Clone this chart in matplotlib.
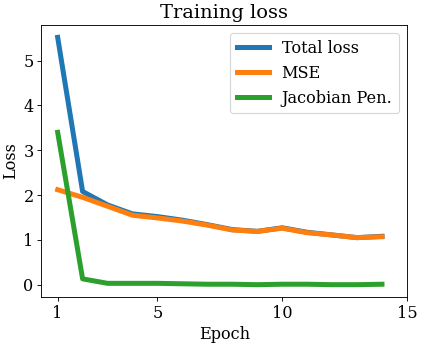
import numpy as np
import matplotlib.pyplot as plt

plt.rcParams['font.family'] = 'DejaVu Serif'
plt.rcParams['font.size'] = 14.5

epochs = list(range(1, 15))
mse = [2.12, 1.95, 1.75, 1.55, 1.49, 1.42, 1.33, 1.22, 1.19, 1.26, 1.16, 1.11, 1.05, 1.07]
jac_pen = [3.4, 0.13, 0.03, 0.03, 0.03, 0.02, 0.01, 0.01, 0.0, 0.01, 0.01, 0.0, 0.0, 0.01]
total = [m + j for m, j in zip(mse, jac_pen)]

fig = plt.figure(figsize=(423 / 80, 345 / 80), dpi=80)
ax = fig.add_axes([0.098, 0.139, 0.864, 0.7885])
ax.plot(epochs, total, lw=4.5, label='Total loss')
ax.plot(epochs, mse, lw=4.5, label='MSE')
ax.plot(epochs, jac_pen, lw=4.5, label='Jacobian Pen.')
ax.set_xticks([1, 5, 10, 15])
ax.set_xlabel('Epoch')
ax.set_ylabel('Loss')
ax.set_title('Training loss', fontsize='large')
ax.legend(loc='upper right')
fig.savefig('out.png')
